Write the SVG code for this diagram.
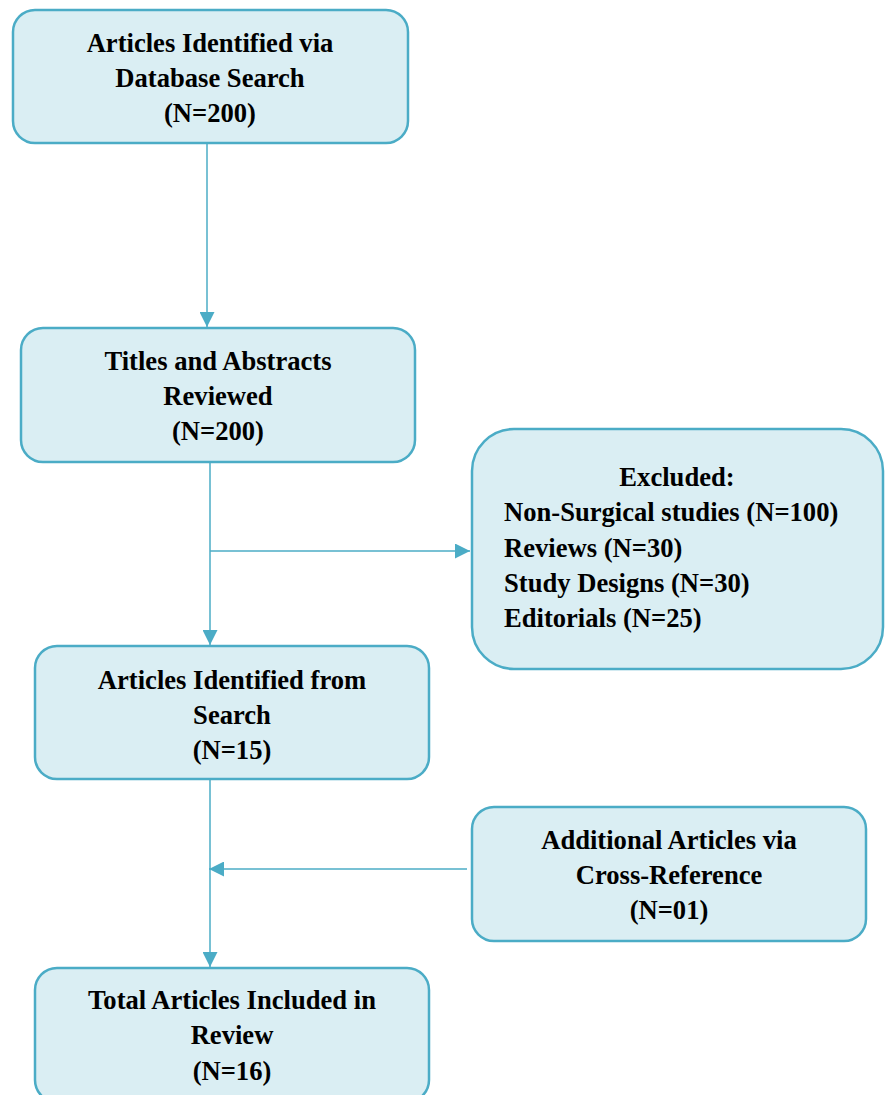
<svg xmlns="http://www.w3.org/2000/svg" width="887" height="1095" viewBox="0 0 887 1095">
<style>
.box{fill:#DAEEF3;stroke:#4BACC6;stroke-width:2.5}
.t{font-family:"Liberation Serif","Times New Roman",serif;font-weight:bold;font-size:26.6px;fill:#000}
.c{text-anchor:middle}
.ln{fill:none;stroke:#4BACC6;stroke-width:1.5}
</style>
<defs>
<marker id="ah" markerUnits="userSpaceOnUse" markerWidth="15" markerHeight="15" refX="15" refY="7.5" orient="auto">
<path d="M0,0 L15,7.5 L0,15 z" fill="#4BACC6"/>
</marker>
</defs>
<rect width="887" height="1095" fill="#fff"/>
<g id="connectors">
<line class="ln" x1="207" y1="143" x2="207" y2="327" marker-end="url(#ah)"/>
<line class="ln" x1="210" y1="462" x2="210" y2="645" marker-end="url(#ah)"/>
<line class="ln" x1="210" y1="551" x2="470" y2="551" marker-end="url(#ah)"/>
<line class="ln" x1="210" y1="779" x2="210" y2="967" marker-end="url(#ah)"/>
<line class="ln" x1="467" y1="869" x2="209" y2="869" marker-end="url(#ah)"/>
</g>
<g id="n1">
<rect class="box" x="13" y="10" width="395" height="133" rx="22"/>
<text class="t c" x="210" y="52">Articles Identified via</text>
<text class="t c" x="210" y="87">Database Search</text>
<text class="t c" x="210" y="122">(N=200)</text>
</g>
<g id="n2">
<rect class="box" x="21" y="328" width="394" height="134" rx="22"/>
<text class="t c" x="218" y="370">Titles and Abstracts</text>
<text class="t c" x="218" y="405">Reviewed</text>
<text class="t c" x="218" y="440">(N=200)</text>
</g>
<g id="n4">
<rect class="box" x="472" y="429" width="411" height="240" rx="42"/>
<text class="t c" x="677" y="486">Excluded:</text>
<text class="t" x="504" y="521">Non-Surgical studies (N=100)</text>
<text class="t" x="504" y="557">Reviews (N=30)</text>
<text class="t" x="504" y="592">Study Designs (N=30)</text>
<text class="t" x="504" y="627">Editorials (N=25)</text>
</g>
<g id="n3">
<rect class="box" x="35" y="646" width="394" height="133" rx="22"/>
<text class="t c" x="232" y="689">Articles Identified from</text>
<text class="t c" x="232" y="724">Search</text>
<text class="t c" x="232" y="759">(N=15)</text>
</g>
<g id="n6">
<rect class="box" x="472" y="807" width="394" height="134" rx="22"/>
<text class="t c" x="669" y="849">Additional Articles via</text>
<text class="t c" x="669" y="884">Cross-Reference</text>
<text class="t c" x="669" y="919">(N=01)</text>
</g>
<g id="n5">
<rect class="box" x="35" y="968" width="394" height="134" rx="22"/>
<text class="t c" x="232" y="1009">Total Articles Included in</text>
<text class="t c" x="232" y="1044">Review</text>
<text class="t c" x="232" y="1080">(N=16)</text>
</g>
</svg>
